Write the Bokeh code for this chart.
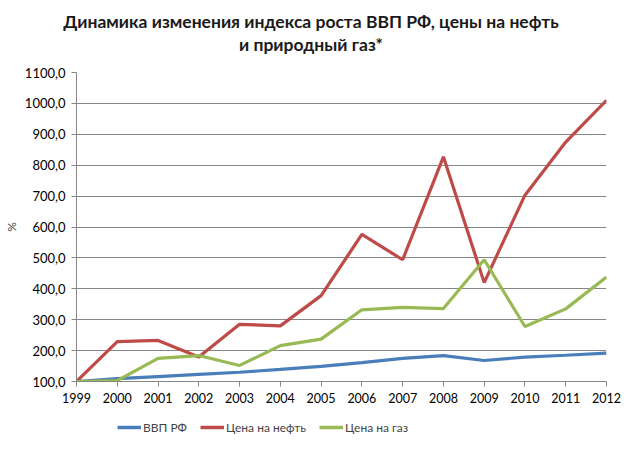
from bokeh.plotting import figure
from bokeh.models import (Div, Legend, LegendItem, FixedTicker, CustomJSTickFormatter,
                          Range1d)
from bokeh.layouts import column
from bokeh.embed import file_html
from bokeh.resources import INLINE

years = [1999, 2000, 2001, 2002, 2003, 2004, 2005, 2006, 2007, 2008, 2009, 2010, 2011, 2012]
gdp = [100, 109, 116, 123, 130, 139, 149, 161, 175, 184, 168, 179, 185, 192]
oil = [100, 229, 233, 179, 285, 280, 378, 576, 494, 827, 420, 703, 875, 1010]
gas = [100, 103, 175, 184, 152, 216, 237, 332, 340, 336, 494, 278, 335, 438]
y_ticks = [100, 200, 300, 400, 500, 600, 700, 800, 900, 1000, 1100]

title_lines = ["Динамика изменения индекса роста ВВП РФ, цены на нефть", "и природный газ*"]
series_names = ["ВВП РФ", "Цена на нефть", "Цена на газ"]
colors = ["#4A7EBB", "#BE4B48", "#98B954"]

FONT = "Lato"

title = Div(text="<br>".join(title_lines), width=637, height=60, margin=(0, 0, 0, 0),
            styles={"font-family": FONT, "font-weight": "bold", "font-size": "17.5px",
                    "line-height": "23px", "text-align": "center", "color": "#1a1a1a",
                    "padding-top": "10px", "padding-right": "15px", "box-sizing": "border-box",
                    "width": "637px"})

p = figure(width=637, height=351, output_backend="svg", toolbar_location=None,
           x_range=Range1d(1999, 2012), y_range=Range1d(100, 1100),
           min_border_left=74, min_border_right=31, min_border_top=12, min_border_bottom=30,
           margin=(0, 0, 0, 0))
p.outline_line_color = None
p.background_fill_color = "white"
p.border_fill_color = "white"

for vals, c in zip([gdp, oil, gas], colors):
    p.line(years, vals, line_color=c, line_width=3.2)

# axes
p.xaxis.ticker = FixedTicker(ticks=years)
p.yaxis.ticker = FixedTicker(ticks=y_ticks)
p.yaxis.formatter = CustomJSTickFormatter(code="return tick.toFixed(1).replace('.', ',');")
for ax in [p.xaxis[0], p.yaxis[0]]:
    ax.axis_line_color = "#868686"
    ax.major_tick_line_color = "#868686"
    ax.major_tick_in = 0
    ax.major_tick_out = 5
    ax.minor_tick_line_color = None
    ax.major_label_text_font = FONT
    ax.major_label_text_font_size = "12.5px"
    ax.major_label_text_color = "#000000"
    ax.major_label_standoff = 6
p.yaxis.major_label_text_font_size = "13px"
p.yaxis.major_label_standoff = 6
p.yaxis.axis_label = "%"
p.yaxis.axis_label_text_font = FONT
p.yaxis.axis_label_text_font_size = "12px"
p.yaxis.axis_label_text_font_style = "normal"
p.yaxis.axis_label_standoff = 3

p.xgrid.grid_line_color = None
p.ygrid.grid_line_color = "#868686"
p.ygrid.grid_line_width = 1

# legend strip below the chart (its series lie outside its own view)
lg = figure(width=637, height=42, output_backend="svg", toolbar_location=None,
            x_range=Range1d(0, 1), y_range=Range1d(0, 1), x_axis_type=None, y_axis_type=None,
            min_border=0, margin=(0, 0, 0, 0))
lg.outline_line_color = None
lg.grid.grid_line_color = None
lg_renderers = [lg.line(years, vals, line_color=c, line_width=3.5)
                for vals, c in zip([gdp, oil, gas], colors)]
legend = Legend(items=[LegendItem(label=n, renderers=[r]) for n, r in zip(series_names, lg_renderers)],
                orientation="horizontal", location=(41, 16), border_line_color=None,
                background_fill_alpha=0, label_text_font=FONT, label_text_font_size="12px",
                glyph_width=24, label_standoff=2, spacing=13, padding=4, margin=0)
lg.add_layout(legend, "center")

layout = column(title, p, lg, spacing=0, margin=(0, 0, 0, 0))
open("out.html", "w").write(file_html(layout, INLINE))
